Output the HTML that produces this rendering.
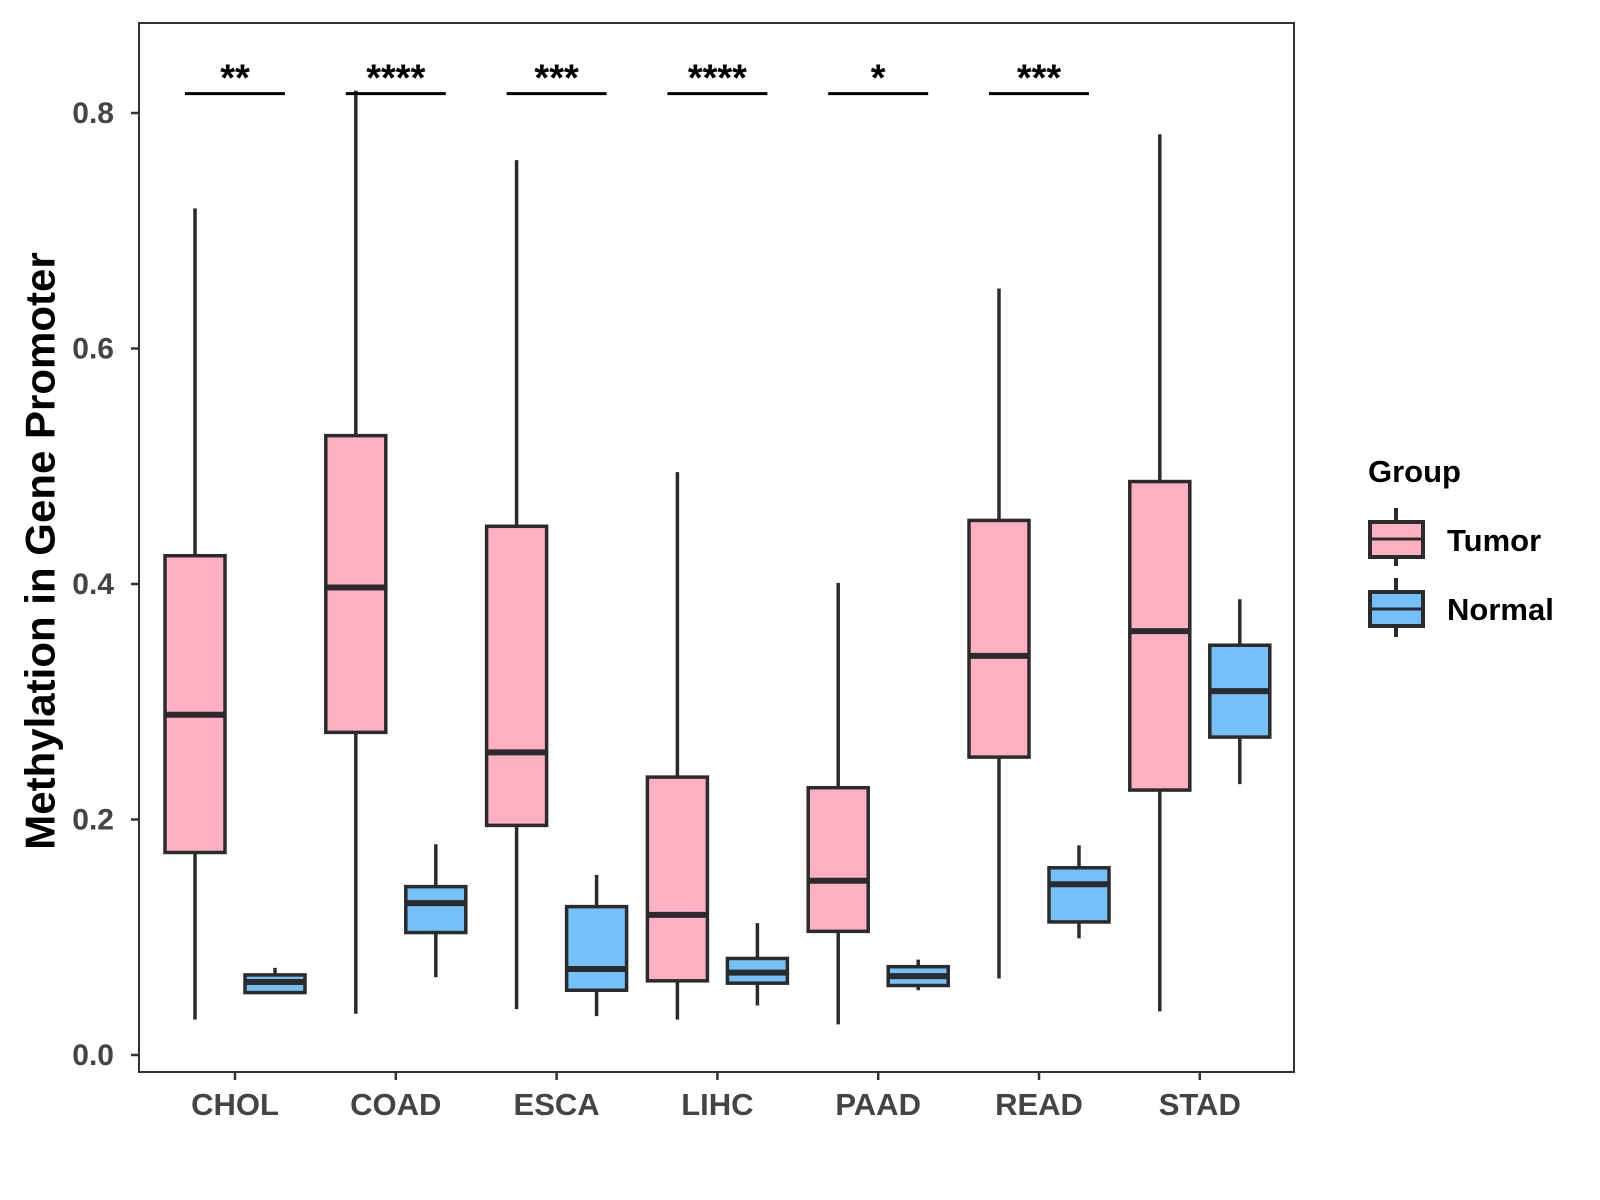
<!DOCTYPE html>
<html><head><meta charset="utf-8"><style>
html,body{margin:0;padding:0;background:#fff;}
svg{display:block;font-family:"Liberation Sans",sans-serif;font-weight:bold;}
</style></head><body>
<svg id="chart" width="1600" height="1200" viewBox="0 0 1600 1200">
<rect x="139" y="23" width="1155" height="1049" fill="#fff" stroke="#333" stroke-width="2"/>
<g id="yaxis"></g>
<g id="xaxis"></g>
<g id="boxes"></g>
<g id="sig"></g>
<text x="40" y="551" font-size="42" fill="#000" text-anchor="middle" dominant-baseline="central" transform="rotate(-90 40 551)">Methylation in Gene Promoter</text>
<g>
<text x="1368" y="482" font-size="31" fill="#000">Group</text>
<g>
<line x1="1402" y1="508" x2="1402" y2="566" stroke="#2b2b2b" stroke-width="4" transform="translate(-6,0)"/>
<rect x="1370" y="522" width="53" height="35" fill="#FFB0C3" stroke="#2b2b2b" stroke-width="4"/>
<line x1="1370" y1="539" x2="1423" y2="539" stroke="#2b2b2b" stroke-width="3"/>
<text x="1447" y="551" font-size="31" fill="#000">Tumor</text>
</g>
<g>
<line x1="1396" y1="578" x2="1396" y2="637" stroke="#2b2b2b" stroke-width="4"/>
<rect x="1370" y="592" width="53" height="34" fill="#74C0F8" stroke="#2b2b2b" stroke-width="4"/>
<line x1="1370" y1="609" x2="1423" y2="609" stroke="#2b2b2b" stroke-width="3"/>
<text x="1447" y="620" font-size="31" fill="#000">Normal</text>
</g>
</g>
</svg>
<script>
const categories=["CHOL","COAD","ESCA","LIHC","PAAD","READ","STAD"];
// [min,q1,median,q3,max]
const tumorStats=[[0.030,0.172,0.289,0.424,0.719],[0.035,0.274,0.397,0.526,0.819],[0.039,0.195,0.257,0.449,0.760],[0.030,0.063,0.119,0.236,0.495],[0.026,0.105,0.148,0.227,0.401],[0.065,0.253,0.339,0.454,0.651],[0.037,0.225,0.360,0.487,0.782]];
const normalStats=[[0.053,0.053,0.062,0.068,0.074],[0.066,0.104,0.129,0.143,0.179],[0.033,0.055,0.073,0.126,0.153],[0.042,0.061,0.070,0.082,0.112],[0.055,0.059,0.067,0.075,0.081],[0.099,0.113,0.145,0.159,0.178],[0.230,0.270,0.309,0.348,0.387]];
const sigLabels=["**","****","***","****","*","***",""];
const sigLevel=0.8165;
const yTicks=[0,0.2,0.4,0.6,0.8];
const yTickLabels=["0.0","0.2","0.4","0.6","0.8"];

const NS="http://www.w3.org/2000/svg";
function y(v){return 1055-(v/0.8)*942;}
function x(i){return 235+i*160.8;}
function mk(tag,attrs,parent){const e=document.createElementNS(NS,tag);for(const k in attrs)e.setAttribute(k,attrs[k]);parent.appendChild(e);return e;}
const ya=document.getElementById('yaxis'),xa=document.getElementById('xaxis'),bx=document.getElementById('boxes'),sg=document.getElementById('sig');
yTicks.forEach((t,i)=>{
  const l=mk('line',{x1:131,x2:139,y1:y(t),y2:y(t),stroke:'#333','stroke-width':2.5},ya);
  
  
  const tx=mk('text',{x:114,y:y(t)+10,'font-size':30,fill:'#444','text-anchor':'end'},ya);
  tx.textContent=yTickLabels[i];
  
  
});
categories.forEach((c,i)=>{
  const l=mk('line',{x1:x(i),x2:x(i),y1:1072,y2:1080,stroke:'#333','stroke-width':2.5},xa);
  
  
  const tx=mk('text',{x:x(i),y:1115,'font-size':31,fill:'#444','text-anchor':'middle'},xa);
  tx.textContent=c;
  
  
});
function drawBox(cx,s,fill,name){
  const g=mk('g',{},bx);
  
  
  const w=60;
  mk('line',{x1:cx,x2:cx,y1:y(s[4]),y2:y(s[0]),stroke:'#2b2b2b','stroke-width':3.5},g);
  mk('rect',{x:cx-w/2,y:y(s[3]),width:w,height:y(s[1])-y(s[3]),fill:fill,stroke:'#2b2b2b','stroke-width':3.5},g);
  mk('line',{x1:cx-w/2,x2:cx+w/2,y1:y(s[2]),y2:y(s[2]),stroke:'#2b2b2b','stroke-width':6},g);
}
categories.forEach((c,i)=>{
  drawBox(x(i)-40,tumorStats[i],'#FFB0C3','box-tumor-'+c.toLowerCase());
  drawBox(x(i)+40,normalStats[i],'#74C0F8','box-normal-'+c.toLowerCase());
  if(sigLabels[i]){
    const l=mk('line',{x1:x(i)-50,x2:x(i)+50,y1:y(sigLevel),y2:y(sigLevel),stroke:'#000','stroke-width':3},sg);
    
    
    const t=mk('text',{x:x(i),y:y(sigLevel)-3,'font-size':38,fill:'#000','text-anchor':'middle'},sg);
    t.textContent=sigLabels[i];
    
    
  }
});
</script>
</body></html>
